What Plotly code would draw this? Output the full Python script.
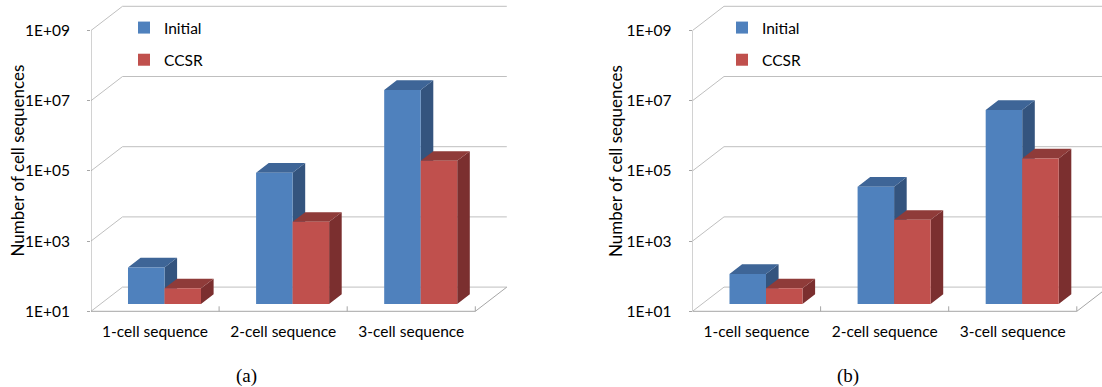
import numpy as np
import plotly.graph_objects as go

# ---------------- data ----------------
categories = ["1-cell sequence", "2-cell sequence", "3-cell sequence"]
series_names = ["Initial", "CCSR"]
y_tick_values = [1e1, 1e3, 1e5, 1e7, 1e9]
y_tick_labels = ["1E+01", "1E+03", "1E+05", "1E+07", "1E+09"]
y_title = "Number of cell sequences"
panel_captions = ["(a)", "(b)"]

a_initial = [110, 55000, 1.25e7]
a_ccsr = [28, 2200, 1.2e5]
b_initial = [72, 22000, 3.4e6]
b_ccsr = [28, 2500, 1.4e5]

# ---------------- style / layout ----------------
W, H = 1102, 387
FONT = "Lato"
TICK_SIZE = 15.5
PPU = 128.1      # px per category unit
PPD = 35.1       # px per decade
Y1_PX = 311.3    # px of the front 1E+01 level
Y_LO, Y_HI = 0.9, 9.8

WX = 31.5 / PPU  # depth of the wall, x units
WY = 24.2 / PPD  # depth of the wall, decades
SX, SY = 0.3 * WX, 0.3 * WY   # bar front plane shift
DX, DY = 0.4 * WX, 0.4 * WY   # bar depth
BW = 0.285

front_cols = ["#4F81BD", "#C0504D"]
top_cols = ["#3E6597", "#8F3B39"]
side_cols = ["#34547E", "#7B2F2F"]
grid_col = "#BFBFBF"
axis_col = "#A6A6A6"

panels = [
    dict(data=[a_initial, a_ccsr], axis_px=91.0, right_px=513.4, title_x=16.5,
         legend_px=124, cap_x=246),
    dict(data=[b_initial, b_ccsr], axis_px=692.5, right_px=1102.0, title_x=615,
         legend_px=722, cap_x=848),
]

ydom = [1 - (Y1_PX + (1 - Y_LO) * PPD) / H, 1 - (Y1_PX - (Y_HI - 1) * PPD) / H]
ticks_log = [float(np.log10(v)) for v in y_tick_values]

fig = go.Figure()
annotations = []
n = len(categories)

for k, p in enumerate(panels):
    sfx = "" if k == 0 else str(k + 1)
    xa, ya = "x" + sfx, "y" + sfx
    leg = "legend" + sfx

    # walls, floor and axis lines
    gx, gy = [], []
    for t in ticks_log:
        gx += [-0.5, -0.5 + WX, n - 0.5 + WX, None]
        gy += [t, t + WY, t + WY, None]
    fig.add_trace(go.Scatter(x=gx, y=gy, mode="lines", line=dict(color=grid_col, width=1),
                             xaxis=xa, yaxis=ya, showlegend=False, hoverinfo="skip", zorder=0))
    lo = ticks_log[0]
    fx = [-0.5, -0.5, None, -0.5, n - 0.5, n - 0.5 + WX, None]
    fy = [ticks_log[-1], lo, None, lo, lo, lo + WY, None]
    for i in range(n):
        fx += [i + 0.5, i + 0.5, None]
        fy += [lo, lo + 5 / PPD, None]
    fig.add_trace(go.Scatter(x=fx, y=fy, mode="lines", line=dict(color=axis_col, width=1),
                             xaxis=xa, yaxis=ya, showlegend=False, hoverinfo="skip", zorder=0))

    for s, vals in enumerate(p["data"]):
        lv = np.log10(np.array(vals, dtype=float))
        base = lo + SY
        xs = np.arange(n) + SX
        off = -BW if s == 0 else 0.0
        tx, ty, sx_, sy_ = [], [], [], []
        for i in range(n):
            x0 = xs[i] + off
            x1 = x0 + BW
            top = lv[i] + SY
            tx += [x0, x1, x1 + DX, x0 + DX, x0, None]
            ty += [top, top, top + DY, top + DY, top, None]
            sx_ += [x1, x1, x1 + DX, x1 + DX, x1, None]
            sy_ += [base, top, top + DY, base + DY, base, None]
        z = 1 + 2 * s
        fig.add_trace(go.Scatter(x=sx_, y=sy_, mode="lines", fill="toself", fillcolor=side_cols[s],
                                 line=dict(width=0, color=side_cols[s]), xaxis=xa, yaxis=ya,
                                 showlegend=False, hoverinfo="skip", zorder=z))
        fig.add_trace(go.Scatter(x=tx, y=ty, mode="lines", fill="toself", fillcolor=top_cols[s],
                                 line=dict(width=0, color=top_cols[s]), xaxis=xa, yaxis=ya,
                                 showlegend=False, hoverinfo="skip", zorder=z))
        fig.add_trace(go.Bar(x=xs, y=lv - lo, base=base, width=BW, offset=off,
                             marker=dict(color=front_cols[s], line=dict(width=0)),
                             name=series_names[s], legend=leg, legendgroup=f"g{k}{s}",
                             xaxis=xa, yaxis=ya, zorder=z + 1,
                             customdata=vals, hovertemplate="%{customdata:.3g}<extra></extra>"))

    x_end = -0.5 + (p["right_px"] - p["axis_px"]) / PPU
    fig.update_layout(**{
        "xaxis" + sfx: dict(domain=[p["axis_px"] / W, p["right_px"] / W], range=[-0.5, x_end],
                            anchor=ya, tickvals=list(range(n)), ticktext=categories, automargin=False,
                            showgrid=False, zeroline=False, showline=False, ticks="",
                            ticklabelstandoff=6, tickfont=dict(family=FONT, size=TICK_SIZE, color="#000")),
        "yaxis" + sfx: dict(domain=ydom, range=[Y_LO, Y_HI], anchor=xa, automargin=False,
                            tickvals=ticks_log, ticktext=y_tick_labels,
                            showgrid=False, zeroline=False, showline=False,
                            ticks="outside", ticklen=3, tickcolor=axis_col,
                            ticklabelstandoff=14, tickfont=dict(family=FONT, size=TICK_SIZE, color="#000")),
        leg: dict(x=p["legend_px"] / W, y=1 - 11 / H, xanchor="left", yanchor="top",
                  bgcolor="rgba(0,0,0,0)", font=dict(family=FONT, size=TICK_SIZE, color="#000"),
                  tracegroupgap=9, traceorder="grouped"),
    })
    annotations.append(dict(text=y_title, x=p["title_x"] / W, y=1 - 161 / H, xref="paper", yref="paper",
                            textangle=-90, showarrow=False, xanchor="center", yanchor="middle",
                            font=dict(family=FONT, size=17, color="#000")))
    annotations.append(dict(text=panel_captions[k], x=p["cap_x"] / W, y=1 - 376 / H, xref="paper",
                            yref="paper", showarrow=False, xanchor="center", yanchor="middle",
                            font=dict(family="Liberation Serif", size=19, color="#000")))

fig.update_layout(width=W, height=H, margin=dict(l=0, r=0, t=0, b=0, autoexpand=False),
                  paper_bgcolor="white", plot_bgcolor="white", barmode="overlay",
                  annotations=annotations, showlegend=True)

fig.write_html("out.html", config={"displayModeBar": False},
               post_script="document.body.style.margin='0px';")
